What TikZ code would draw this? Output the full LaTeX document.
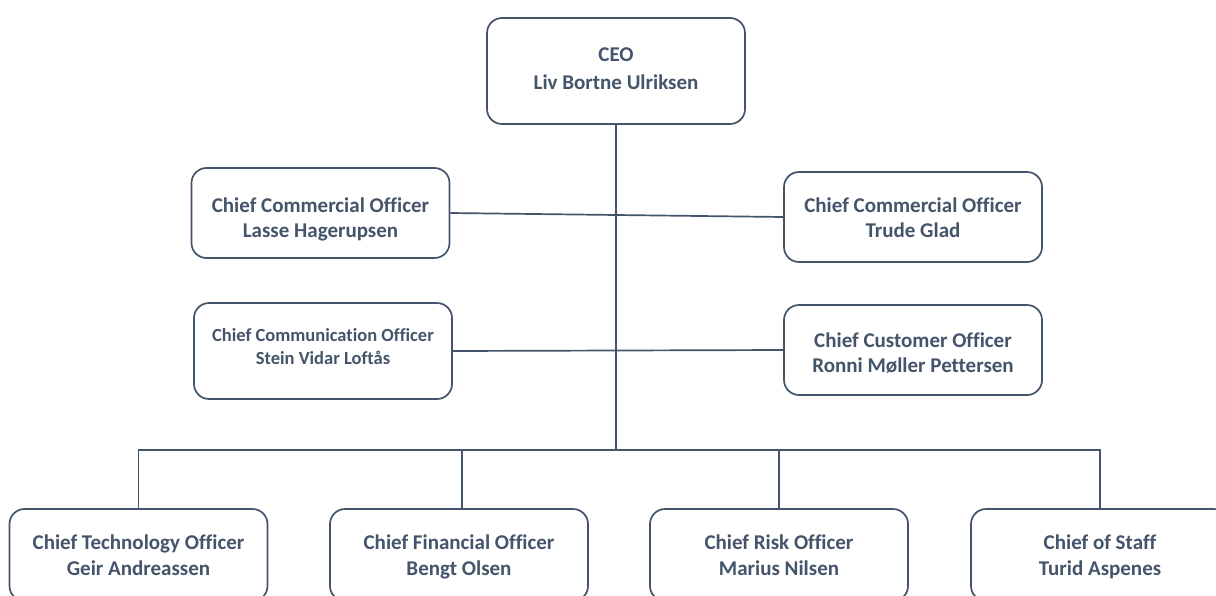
\documentclass[tikz,border=0pt]{standalone}
\usepackage{fontspec}
\setmainfont{Carlito}[Ligatures=NoCommon]
\definecolor{slate}{HTML}{44546A}
\newcommand\boxtext[2]{\raisebox{-#1pt}[\height][\depth]{\begin{tabular}{@{}c@{}}#2\end{tabular}}}
\begin{document}
\begin{tikzpicture}[x=1pt,y=-1pt,
  box/.style={draw=slate, line width=1.7pt, rounded corners=15pt, fill=white, text=slate,
    font=\bfseries\fontsize{21}{25.5}\selectfont, inner sep=0pt,
    minimum width=258pt, minimum height=90pt},
  smallbox/.style={box, font=\bfseries\fontsize{18.5}{22.5}\selectfont},
  bigbox/.style={box, font=\bfseries\fontsize{21}{28}\selectfont},
  conn/.style={draw=slate, line width=1.7pt}]
\useasboundingbox (0,0) rectangle (1216,595);
\node[bigbox, minimum height=106pt] (ceo) at (616,71) {\boxtext{-1}{CEO\\Liv Bortne Ulriksen}};
\node[box] (cco1) at (320.5,213) {\boxtext{7}{Chief Commercial Officer\\Lasse Hagerupsen}};
\node[box] (cco2) at (913,217) {\boxtext{3}{Chief Commercial Officer\\Trude Glad}};
\node[smallbox, minimum height=96pt] (comm) at (323,351) {\boxtext{-2.5}{Chief Communication Officer\\Stein Vidar Loftås}};
\node[box] (cust) at (913,350) {\boxtext{5}{Chief Customer Officer\\Ronni Møller Pettersen}};
\node[box, minimum height=92pt] (cto) at (138.5,555) {\boxtext{2.5}{Chief Technology Officer\\Geir Andreassen}};
\node[box, minimum height=92pt] (cfo) at (459,555) {\boxtext{2.5}{Chief Financial Officer\\Bengt Olsen}};
\node[box, minimum height=92pt] (cro) at (779,555) {\boxtext{2.5}{Chief Risk Officer\\Marius Nilsen}};
\node[box, minimum height=92pt] (cos) at (1100,555) {\boxtext{2.5}{Chief of Staff\\Turid Aspenes}};
\coordinate (bus) at (616,450);
\draw[conn] (ceo.south) -- (bus);
\draw[conn] (cco1.east) -- (cco2.west);
\draw[conn] (comm.east) -- (cust.west);
\draw[conn] (cto.north) -- (cto.north |- bus) -- (cos.north |- bus) -- (cos.north);
\draw[conn] (cfo.north) ++(3,0) coordinate (cfotop) -- (cfotop |- bus);
\draw[conn] (cro.north) -- (cro.north |- bus);
\end{tikzpicture}
\end{document}
